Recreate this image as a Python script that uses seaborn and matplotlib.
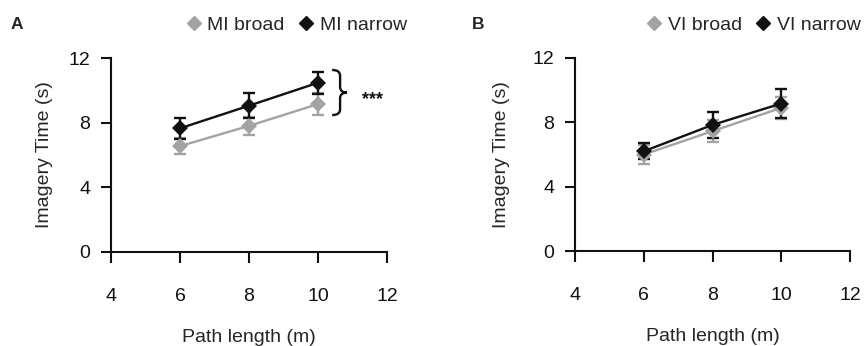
import numpy as np
import pandas as pd
import matplotlib
matplotlib.use("Agg")
import matplotlib.pyplot as plt
from matplotlib.path import Path
from matplotlib.patches import PathPatch
from matplotlib.lines import Line2D
import seaborn as sns

# ---- data ----
path_length = [6, 8, 10]
mi_broad = [6.55, 7.8, 9.15]
mi_broad_err = [0.5, 0.55, 0.7]
mi_narrow = [7.65, 9.05, 10.47]
mi_narrow_err = [0.65, 0.77, 0.68]
vi_broad = [6.0, 7.45, 8.9]
vi_broad_err = [0.6, 0.7, 0.7]
vi_narrow = [6.2, 7.84, 9.17]
vi_narrow_err = [0.5, 0.8, 0.9]
xticks = [4, 6, 8, 10, 12]
yticks = [0, 4, 8, 12]

sns.set_theme(style="white")
plt.rcParams['font.family'] = ['Liberation Sans', 'DejaVu Sans']

GRAY = '#a3a3a3'
BLACK = '#111111'
FS = 14

fig = plt.figure(figsize=(8.67, 3.46), dpi=100)
axA = fig.add_axes([111/867, 94/346, 276/867, 194/346])
axB = fig.add_axes([575/867, 95/346, 275/867, 193/346])


def draw(ax, broad, broad_err, narrow, narrow_err, names, letter,
         leg_x, letter_x, ylabpad):
    df = pd.DataFrame({
        'x': path_length * 2,
        'y': broad + narrow,
        'cond': [names[0]] * 3 + [names[1]] * 3,
    })
    for (vals, errs, col) in [(broad, broad_err, GRAY), (narrow, narrow_err, BLACK)]:
        ax.errorbar(path_length, vals, yerr=errs, fmt='none', ecolor=col,
                    elinewidth=1.7, capsize=4, capthick=1.7, zorder=2)
    sns.lineplot(data=df, x='x', y='y', hue='cond', palette=[GRAY, BLACK],
                 marker='D', markersize=8.5, markeredgewidth=0, linewidth=1.7,
                 ax=ax, legend=False, zorder=3)
    ax.set_xlim(4, 12)
    ax.set_ylim(0, 12)
    ax.set_xticks(xticks)
    ax.set_yticks(yticks)
    ax.tick_params(axis='x', direction='out', length=8, width=1.5, pad=18,
                   labelsize=FS, bottom=True, colors=BLACK)
    ax.tick_params(axis='y', direction='out', length=7, width=1.5, pad=8,
                   labelsize=FS, left=True, colors=BLACK)
    for s in ['top', 'right']:
        ax.spines[s].set_visible(False)
    for s in ['left', 'bottom']:
        ax.spines[s].set_linewidth(1.5)
        ax.spines[s].set_color(BLACK)
    ax.set_xlabel('Path length (m)', fontsize=FS, labelpad=17)
    ax.set_ylabel('Imagery Time (s)', fontsize=FS, labelpad=ylabpad)
    handles = [Line2D([], [], marker='D', color=GRAY, linestyle='none', markersize=7.5),
               Line2D([], [], marker='D', color=BLACK, linestyle='none', markersize=7.5)]
    ax.legend(handles, names, loc='center', bbox_to_anchor=(leg_x, 1.17), ncol=2,
              frameon=False, fontsize=FS, handletextpad=0.2, columnspacing=0.6,
              handlelength=1.0, borderaxespad=0)
    ax.text(letter_x, 1.175, letter, transform=ax.transAxes, fontsize=12.5,
            fontweight='bold', va='center', ha='center')


draw(axA, mi_broad, mi_broad_err, mi_narrow, mi_narrow_err,
     ['MI broad', 'MI narrow'], 'A', 0.668, -0.34, 11)
draw(axB, vi_broad, vi_broad_err, vi_narrow, vi_narrow_err,
     ['VI broad', 'VI narrow'], 'B', 0.645, -0.353, 16)

# significance brace in panel A
x0, x1, x2 = 10.41, 10.64, 10.84
yt, yb, ym = 11.26, 8.47, 9.86
verts = [(x0, yt), (x1, yt), (x1, yt - 0.35),
         (x1, ym + 0.35), (x1, ym), (x2, ym),
         (x2, ym), (x1, ym), (x1, ym - 0.35),
         (x1, yb + 0.35), (x1, yb), (x0, yb)]
codes = [Path.MOVETO, Path.CURVE3, Path.CURVE3,
         Path.LINETO, Path.CURVE3, Path.CURVE3,
         Path.MOVETO, Path.CURVE3, Path.CURVE3,
         Path.LINETO, Path.CURVE3, Path.CURVE3]
brace = PathPatch(Path(verts, codes), facecolor='none', edgecolor=BLACK,
                  linewidth=1.7, clip_on=False)
axA.add_patch(brace)
axA.text(11.57, 9.4, '***', fontsize=13, fontweight='bold', ha='center',
         va='center', color=BLACK)

fig.savefig('out.png', dpi=100)
